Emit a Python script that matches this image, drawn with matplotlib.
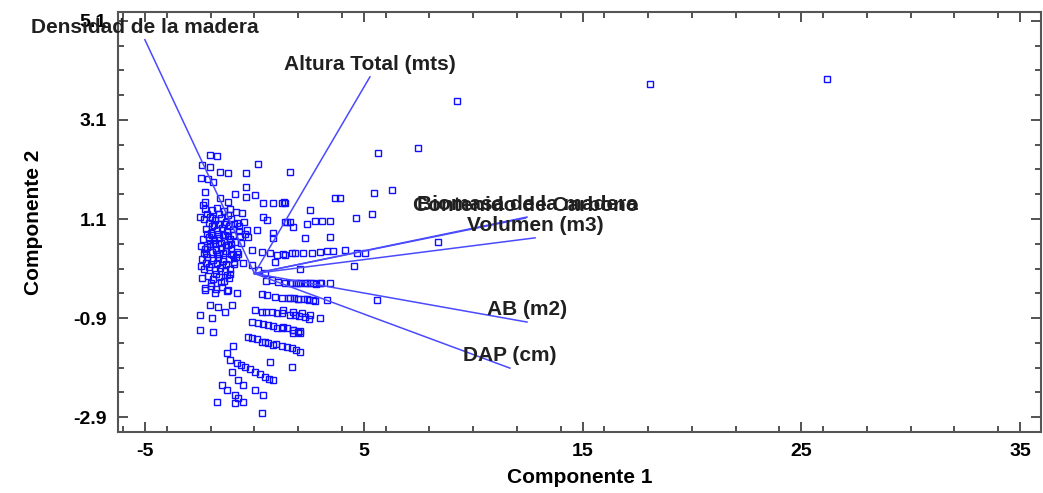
import numpy as np
import matplotlib
matplotlib.use("Agg")
from matplotlib import pyplot as plt
from matplotlib.ticker import FixedLocator, MultipleLocator

plt.rcParams['font.family'] = ['Liberation Sans', 'DejaVu Sans']
plt.rcParams['axes.unicode_minus'] = False

# scores on the first two components
comp1 = [
    # dense core
    -2.25, -1.95, -1.70, -1.40, -1.10, -0.85, -0.55,
    -2.30, -2.05, -1.80, -1.55, -1.30, -1.05, -0.80, -0.50,
    -2.20, -1.95, -1.72, -1.48, -1.25, -1.00, -0.72, -0.45,
    -2.35, -2.10, -1.85, -1.60, -1.38, -1.12, -0.88, -0.60,
    -2.28, -2.02, -1.78, -1.52, -1.28, -1.05, -0.78,
    -2.40, -2.15, -1.90, -1.65, -1.42, -1.18, -0.92,
    -2.32, -2.08, -1.82, -1.58, -1.35, -1.10,
    -2.38, -2.12, -1.88, -1.62, -1.40, -1.15,
    -2.25, -2.00, -1.75, -1.50, -1.25,
    -2.15, -1.60, -1.20, -2.00, -1.35, -1.90, -1.20, -2.22, -1.60, -1.00,
    -2.00, -1.50, -1.75, -1.25, -2.45, -2.45, -0.65, -0.70, -0.95,
    -2.10, -1.85, -1.62, -1.40, -1.15, -0.95, -2.18, -1.92, -1.68, -1.45,
    -1.22, -0.98, -2.05, -1.80, -1.55, -1.32, -1.08, -2.30, -1.95, -1.70,
    -1.45, -1.05, -0.85, -2.20, -1.72, -1.30, -0.75, -1.98, -1.52, -1.10,
    # upper left spread
    -2.03, -1.71, -2.40, -2.03, -1.57, -1.21, -0.38, 0.16, 1.63,
    -2.44, -2.12, -1.89, -0.38,
    -2.26, -1.57, -1.21, -0.89, -0.38, 0.03, 0.39, 0.85, 1.26, 1.40,
    -2.35, -2.26, -2.49, -1.94, 0.39, 0.58, 1.40, 1.63,
    -0.34, 0.12, 0.85, -0.29, 0.85, -2.17,
    # middle rows
    -0.11, 0.35, 0.71, 1.03, 1.40, 1.72,
    -0.52, -0.11, 0.16, 0.48, 0.94,
    0.80, 1.08, 1.40, 1.72,
    -2.26, -1.80, -1.21, -0.80,
    0.58, 0.94, 1.26, 1.54,
    -2.03, -1.66, -1.02,
    -2.49, -1.94, -1.34,
    0.03, 0.35, 0.80, 1.26, 1.63,
    -0.11, 0.16, 0.62, 1.03, 1.49,
    -2.49, -1.89,
    # lower stripes
    -0.29, 0.35, 0.62, 0.85, 1.26, 1.72, 2.08, 1.76, 2.08,
    -0.98, -1.25, -1.12, 0.71,
    -0.80, -0.43, 0.03, 0.48, 0.85,
    1.72,
    -1.02, -0.75, -0.52, -1.48, -1.25, -0.89, 0.03, 0.39, -0.75, -0.52,
    -1.71, -0.89, 0.35,
    0.55, 1.90, 2.10, 2.30, 2.55, 2.80, 3.05,
    0.35, 1.80, 2.00, 2.25, 2.50, 2.75,
    0.55, 1.05, 1.85, 2.05, 2.30, 2.50,
    0.40, 0.85, 1.25, 1.75, 2.00,
    -0.10, 0.10, 0.50, 1.00, 1.50, 1.90,
    -0.60, -0.20, 0.25, 0.65,
    # right of the core
    5.65, 1.35, 3.68, 3.91, 5.47, 6.29,
    2.54, 5.38, 4.64,
    1.49, 1.76, 2.40, 2.77, 3.09, 3.46,
    2.31, 3.46,
    1.31, 1.86, 2.22, 2.63, 3.00, 3.32, 3.59, 4.14, 4.69, 5.06,
    2.08, 4.55,
    1.63, 1.99, 2.40, 2.68, 3.00, 3.46,
    5.60,
    1.63, 1.99, 2.40, 2.68, 3.32,
    1.31, 1.76, 2.18, 2.54, 3.00,
    1.31, 1.76, 2.08,
    # far points
    7.48, 9.26, 18.09, 26.17, 8.39,
]
comp2 = [
    1.30, 1.28, 1.32, 1.26, 1.30, 1.25, 1.22,
    1.10, 1.15, 1.08, 1.12, 1.05, 1.10, 1.02, 1.05,
    0.90, 0.95, 0.88, 0.92, 0.85, 0.90, 0.86, 0.80,
    0.70, 0.74, 0.68, 0.72, 0.66, 0.70, 0.64, 0.62,
    0.50, 0.55, 0.48, 0.52, 0.46, 0.50, 0.44,
    0.30, 0.34, 0.28, 0.32, 0.26, 0.30, 0.24,
    0.10, 0.14, 0.08, 0.12, 0.05, 0.10,
    -0.10, -0.05, -0.12, -0.08, -0.15, -0.10,
    -0.30, -0.26, -0.32, -0.28, -0.35,
    1.20, 1.20, 1.18, 0.82, 0.78, 0.60, 0.58, 0.40, 0.40, 0.38,
    0.20, 0.18, 0.00, -0.02, 0.55, 0.15, 0.75, 0.95, 0.20,
    1.02, 0.98, 1.00, 1.00, 0.96, 1.00, 0.80, 0.78, 0.80, 0.78,
    0.76, 0.78, 0.60, 0.62, 0.62, 0.58, 0.60, 0.42, 0.44, 0.40,
    0.42, 0.40, 0.34, 0.22, 0.22, 0.20, 0.40, -0.20, -0.18, 0.00,
    2.39, 2.37, 2.19, 2.15, 2.05, 2.03, 2.03, 2.21, 2.05,
    1.93, 1.91, 1.85, 1.75,
    1.65, 1.53, 1.44, 1.61, 1.55, 1.59, 1.42, 1.42, 1.42, 1.42,
    1.38, 1.44, 1.14, 1.12, 1.14, 1.08, 1.04, 1.04,
    0.88, 0.88, 0.82, 0.74, 0.72, 0.54,
    0.47, 0.43, 0.41, 0.37, 0.37, 0.41,
    0.21, 0.17, 0.07, 0.01, 0.23,
    -0.13, -0.17, -0.19, -0.19,
    -0.33, -0.39, -0.33, -0.39,
    -0.43, -0.47, -0.49, -0.49,
    -0.64, -0.68, -0.64,
    -0.84, -0.90, -0.78,
    -0.74, -0.78, -0.78, -0.80, -0.84,
    -0.98, -1.00, -1.04, -1.10, -1.10,
    -1.14, -1.18,
    -1.28, -1.38, -1.40, -1.44, -1.46, -1.51, -1.59, -1.20, -1.20,
    -1.46, -1.61, -1.75, -1.79,
    -1.81, -1.89, -1.99, -2.09, -2.15,
    -1.89,
    -1.99, -2.15, -2.25, -2.25, -2.35, -2.45, -2.35, -2.45, -2.52, -2.60,
    -2.60, -2.62, -2.82,
    -0.15, -0.19, -0.19, -0.20, -0.20, -0.21, -0.20,
    -0.42, -0.50, -0.52, -0.52, -0.53, -0.55,
    -0.78, -0.79, -0.83, -0.86, -0.88, -0.92,
    -1.02, -1.06, -1.10, -1.14, -1.18,
    -1.30, -1.32, -1.38, -1.42, -1.48, -1.55,
    -1.84, -1.93, -2.03, -2.12,
    2.43, 1.44, 1.53, 1.53, 1.63, 1.69,
    1.28, 1.20, 1.12,
    1.04, 0.94, 1.00, 1.06, 1.06, 1.06,
    0.72, 0.74,
    0.39, 0.41, 0.41, 0.41, 0.43, 0.45, 0.45, 0.47, 0.41, 0.41,
    0.09, 0.15,
    -0.19, -0.19, -0.19, -0.19, -0.19, -0.19,
    -0.54,
    -0.49, -0.52, -0.52, -0.54, -0.54,
    -0.74, -0.78, -0.80, -0.84, -0.90,
    -1.08, -1.14, -1.16,
    2.54, 3.48, 3.83, 3.93, 0.64,
]

# variable vectors (loadings scaled)
var_names = ["Densidad de la madera", "Altura Total (mts)", "Biomasa de la madera",
             "Contenido de Carbono", "Volumen (m3)", "AB (m2)", "DAP (cm)"]
var_x = [-5.01, 5.28, 12.46, 12.40, 12.83, 12.46, 11.68]
var_y = [4.72, 3.97, 1.14, 1.12, 0.72, -0.98, -1.91]

fig = plt.figure(figsize=(10.43, 4.93), dpi=100)
ax = fig.add_axes([0.1131, 0.1237, 0.885, 0.852])

ax.plot(comp1, comp2, linestyle='none', marker='s', markersize=5,
        markerfacecolor='none', markeredgecolor='#1010ff', markeredgewidth=1.0)

for name, vx, vy in zip(var_names, var_x, var_y):
    ax.plot([0, vx], [0, vy], color='#4a4aff', lw=1.1)
    ax.annotate(name, (vx, vy), xytext=(0, 2), textcoords='offset points',
                ha='center', va='bottom', fontsize=15, fontweight='bold',
                color='#202020')

ax.set_xlim(-6.24, 35.96)
ax.set_ylim(-3.2, 5.28)
ax.xaxis.set_major_locator(FixedLocator([-5, 5, 15, 25, 35]))
ax.xaxis.set_minor_locator(MultipleLocator(2))
ax.yaxis.set_major_locator(FixedLocator([-2.9, -0.9, 1.1, 3.1, 5.1]))
ax.yaxis.set_minor_locator(FixedLocator(np.arange(-2.9, 5.2, 0.5)))
ax.tick_params(which='both', direction='in', top=True, right=True,
               color='#444444', width=1.3)
ax.tick_params(which='major', length=7, labelsize=14, pad=8)
ax.tick_params(which='minor', length=4)
for lab in ax.get_xticklabels() + ax.get_yticklabels():
    lab.set_fontweight('bold')
for s in ax.spines.values():
    s.set_color('#555555')
    s.set_linewidth(1.5)

ax.set_xlabel("Componente 1", fontsize=15, fontweight='bold', labelpad=6)
ax.set_ylabel("Componente 2", fontsize=15, fontweight='bold', labelpad=22)

plt.savefig("out.png")
